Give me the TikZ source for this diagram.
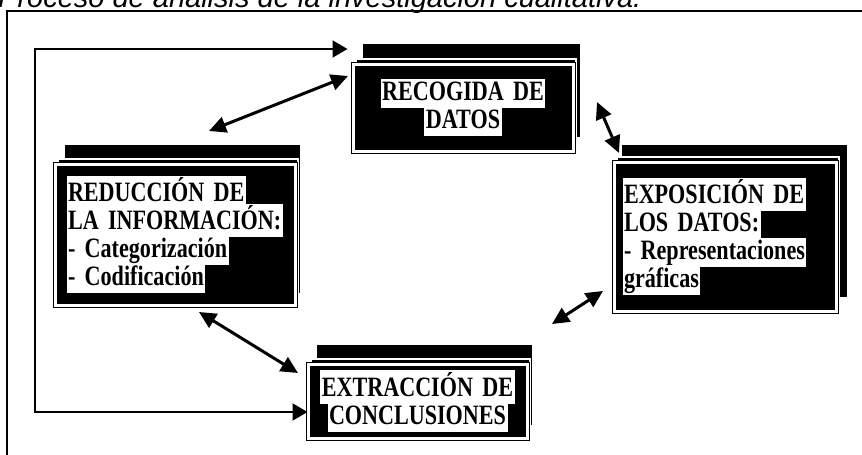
\documentclass[tikz,border=0pt]{standalone}
\usepackage{fontspec}
\usepackage{tikz}
\usetikzlibrary{positioning}
\usetikzlibrary{arrows.meta}
\newfontfamily\titlefont{Liberation Sans}
\newfontfamily\boxfont[FakeStretch=0.79]{Liberation Serif}
\newcommand\boxtxt{\boxfont\bfseries\fontsize{28}{28}\selectfont
  \lineskiplimit=-40pt\spaceskip=0.12em\relax}
\newcommand\hl[1]{\colorbox{white}{\rule[-6pt]{0pt}{26pt}#1}}
\setlength{\fboxsep}{1.5pt}
\tikzset{>=latex}
\tikzset{
  backbox/.style={rectangle, fill=black, inner sep=0pt},
  midbox/.style={rectangle, fill=black, draw=white, line width=1.2pt, inner sep=0pt},
  frontbox/.style={rectangle, fill=black, draw=black, double=white,
    double distance=3pt, line width=1pt, inner ysep=0pt, font=\boxtxt},
  dblarrow/.style={{Triangle[length=17pt,width=16pt]}-{Triangle[length=17pt,width=16pt]},
    line width=3pt},
  loopline/.style={{Triangle[length=15pt,width=17pt]}-{Triangle[length=15pt,width=17pt]},
    line width=2pt}
}

\begin{document}
\begin{tikzpicture}[x=1pt, y=-1pt]

\useasboundingbox (0,0) rectangle (862,455);
\clip (0,0) rectangle (862,455);

% Title (cut at the top)
\node[anchor=base west, inner sep=0pt, font=\titlefont\itshape\fontsize{29}{30}\selectfont]
  (titulo) at (-2,7) {Proceso de análisis de la investigación cualitativa.};

% Frame
\draw[line width=2pt] (880,11) -- (7,11) -- (7,470);

% Recogida de datos
\node[backbox, minimum width=217pt, minimum height=93pt] (recogida-back) at (471.5,90.5) {};
\node[midbox, minimum width=220pt, minimum height=87pt] (recogida-mid) at (466,102.5) {};
\node[frontbox, minimum width=220pt, minimum height=87pt, text width=200pt, align=center]
  (recogida) at (463,107.5) {\hl{RECOGIDA DE}\\\hl{DATOS}};

% Exposicion de los datos
\node[backbox, minimum width=225pt, minimum height=152pt] (exposicion-back) at (734.5,221) {};
\node[midbox, minimum width=222pt, minimum height=149pt] (exposicion-mid) at (728,231.5) {};
\node[frontbox, minimum width=222pt, minimum height=149pt, inner xsep=8.5pt,
  text width=205pt, align=left]
  (exposicion) at (725,236.5)
  {\hl{EXPOSICIÓN DE}\\\hl{LOS DATOS:}\\\hl{- Representaciones}\\\hl{gráficas}};

% Reduccion de la informacion
\node[backbox, minimum width=235pt, minimum height=148pt] (reduccion-back) at (182.5,219) {};
\node[midbox, minimum width=240pt, minimum height=141pt] (reduccion-mid) at (178,229.5) {};
\node[frontbox, minimum width=240pt, minimum height=141pt, inner xsep=11.5pt,
  text width=217pt, align=left]
  (reduccion) at (175,234.5)
  {\hl{REDUCCIÓN DE}\\\hl{LA INFORMACIÓN:}\\\hl{- Categorización}\\\hl{- Codificación}};

% Extraccion de conclusiones
\node[backbox, minimum width=215pt, minimum height=80pt] (extraccion-back) at (424.5,385) {};
\node[midbox, minimum width=219pt, minimum height=74pt] (extraccion-mid) at (420.5,396) {};
\node[frontbox, minimum width=219pt, minimum height=74pt, text width=205pt, align=center]
  (extraccion) at (417.5,401) {\hl{EXTRACCIÓN DE}\\\hl{CONCLUSIONES}};

% Arrow ends
\coordinate (recL) at (348,76);
\coordinate (redT) at (209,131);
\coordinate (recR) at (597,102);
\coordinate (expT) at (619,153);
\coordinate (expL) at (603,291);
\coordinate (extR) at (552,324);
\coordinate (redB) at (199,312);
\coordinate (extL) at (298,373);
\coordinate (loopT) at (35,49);
\coordinate (loopB) at (35,412);

% Arrows
\draw[dblarrow] (recL) -- (redT);
\draw[dblarrow] (recR) -- (expT);
\draw[dblarrow] (expL) -- (extR);
\draw[dblarrow] (redB) -- (extL);

% Loop
\draw[loopline, shorten <=5pt] (loopT -| recogida.west) -- (loopT) -- (loopB)
  -- (loopB -| extraccion.west);

\end{tikzpicture}
\end{document}
